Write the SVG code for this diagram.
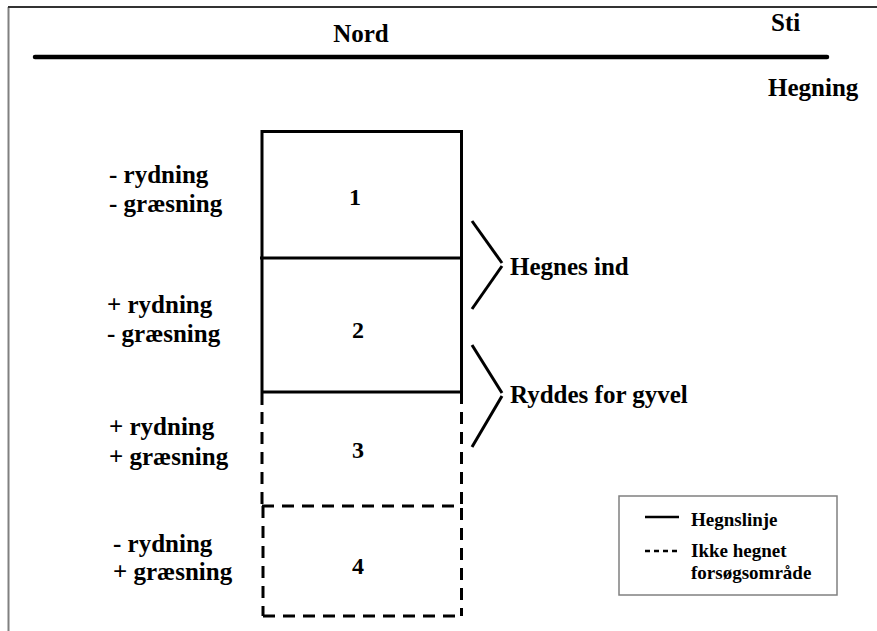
<svg xmlns="http://www.w3.org/2000/svg" width="877" height="631" viewBox="0 0 877 631">
<style>
.t{font-family:'Liberation Serif','DejaVu Serif',serif;font-weight:700;fill:#000}
.lbl{font-size:25px}
.num{font-size:24px;text-anchor:middle}
.leg{font-size:19px}
.solid{stroke:#000;stroke-width:3;fill:none}
.dash{stroke:#000;stroke-width:3;fill:none;stroke-dasharray:12 8}
.br{stroke:#000;stroke-width:3;fill:none}
</style>
<rect x="0" y="0" width="877" height="631" fill="#fff"/>
<g id="frame">
<line x1="8.5" y1="7" x2="8.5" y2="631" stroke="#808080" stroke-width="2"/>
<line x1="8" y1="7" x2="877" y2="7" stroke="#333" stroke-width="2"/>
</g>
<g id="header" font-family="Liberation Serif, serif">
<line x1="35" y1="57" x2="827" y2="57" stroke="#000" stroke-width="4.5" stroke-linecap="round"/>
<text class="t lbl" x="361" y="42" text-anchor="middle">Nord</text>
<text class="t lbl" x="771" y="31">Sti</text>
<text class="t lbl" x="768" y="96">Hegning</text>
</g>
<g id="connectors">
<polyline class="br" points="472,221 502,263"/>
<polyline class="br" points="502,266 472,309"/>
<polyline class="br" points="472,345 502,393"/>
<polyline class="br" points="502,396 472,447"/>
</g>
<g id="plot1">
<polyline class="solid" points="262,258 262,131.5 461.5,131.5 461.5,258"/>
<line class="solid" x1="260" y1="258" x2="463" y2="258"/>
<text class="t num" x="355" y="205">1</text>
<text class="t lbl" x="109" y="183">- rydning</text>
<text class="t lbl" x="109" y="212">- græsning</text>
</g>
<g id="plot2">
<line class="solid" x1="262" y1="258" x2="262" y2="405"/>
<line class="solid" x1="461.5" y1="258" x2="461.5" y2="404"/>
<line class="solid" x1="262" y1="392" x2="461.5" y2="392"/>
<text class="t num" x="358" y="338">2</text>
<text class="t lbl" x="107" y="313">+ rydning</text>
<text class="t lbl" x="107" y="342">- græsning</text>
</g>
<g id="plot3">
<line class="dash" x1="262" y1="412" x2="262" y2="505"/>
<line class="dash" x1="461.5" y1="412" x2="461.5" y2="505"/>
<text class="t num" x="358" y="458">3</text>
<text class="t lbl" x="109" y="435">+ rydning</text>
<text class="t lbl" x="109" y="465">+ græsning</text>
</g>
<g id="plot4">
<line class="dash" x1="262" y1="506" x2="462" y2="506"/>
<line class="dash" x1="263" y1="506" x2="263" y2="616"/>
<line class="dash" x1="461.5" y1="508" x2="461.5" y2="616"/>
<line class="dash" x1="263" y1="616" x2="462" y2="616"/>
<text class="t num" x="358" y="574">4</text>
<text class="t lbl" x="113" y="552">- rydning</text>
<text class="t lbl" x="113" y="580">+ græsning</text>
</g>
<g id="hegnes">
<text class="t lbl" x="510" y="275">Hegnes ind</text>
</g>
<g id="ryddes">
<text class="t lbl" x="510" y="403">Ryddes for gyvel</text>
</g>
<g id="legend">
<rect x="619" y="496" width="218" height="99" fill="#fff" stroke="#808080" stroke-width="1.5"/>
<line x1="645" y1="517" x2="679" y2="517" stroke="#000" stroke-width="2.5"/>
<line x1="645" y1="551" x2="679" y2="551" stroke="#000" stroke-width="2.5" stroke-dasharray="5 4"/>
<text class="t leg" x="691" y="526">Hegnslinje</text>
<text class="t leg" x="691" y="557">Ikke hegnet</text>
<text class="t leg" x="691" y="579">forsøgsområde</text>
</g>
</svg>
